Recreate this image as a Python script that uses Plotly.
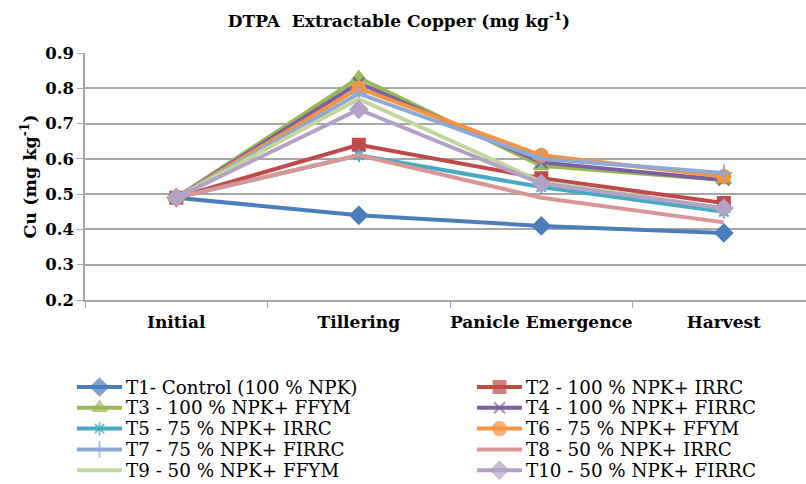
import plotly.graph_objects as go

stages = ["Initial", "Tillering", "Panicle Emergence", "Harvest"]
names = [
    "T1- Control (100 % NPK)",
    "T2 - 100 % NPK+ IRRC",
    "T3 - 100 % NPK+ FFYM",
    "T4 - 100 % NPK+ FIRRC",
    "T5 - 75 % NPK+ IRRC",
    "T6 - 75 % NPK+ FFYM",
    "T7 - 75 % NPK+ FIRRC",
    "T8 - 50 % NPK+ IRRC",
    "T9 - 50 % NPK+ FFYM",
    "T10 - 50 % NPK+ FIRRC",
]
t1 = [0.49, 0.44, 0.41, 0.39]
t2 = [0.49, 0.64, 0.545, 0.475]
t3 = [0.49, 0.83, 0.58, 0.54]
t4 = [0.49, 0.815, 0.59, 0.54]
t5 = [0.49, 0.61, 0.52, 0.45]
t6 = [0.49, 0.80, 0.61, 0.55]
t7 = [0.49, 0.785, 0.60, 0.56]
t8 = [0.49, 0.61, 0.49, 0.42]
t9 = [0.49, 0.77, 0.535, 0.46]
t10 = [0.49, 0.74, 0.53, 0.46]
series = [t1, t2, t3, t4, t5, t6, t7, t8, t9, t10]

colors = ["#4A7EBB", "#BE4B48", "#98B954", "#7D60A0", "#46AAC5",
          "#F69240", "#8EA9D4", "#D99694", "#C3D69B", "#B3A2C7"]
symbols = ["diamond", "square", "triangle-up", "x-thin-open", "asterisk-open",
           "circle", "cross-thin-open", None, None, "diamond"]
sizes = [13, 12, 13, 11, 11, 13, 12, 0, 0, 13]

# figure geometry (pixels)
FW, FH = 806, 484
PLOT_L, PLOT_T, PLOT_B = 85, 53, 300      # main plot area
LEG_T = 330                                 # legend area top

serif = "DejaVu Serif"

fig = go.Figure()
for name, vals, c, s, sz in zip(names, series, colors, symbols, sizes):
    if s is None:
        mode = "lines"
        marker = dict()
    else:
        mode = "lines+markers"
        marker = dict(symbol=s, size=sz, color=c, line=dict(color=c, width=2))
    fig.add_trace(go.Scatter(x=stages, y=vals, name=name, mode=mode,
                             line=dict(color=c, width=4), marker=marker,
                             showlegend=False))

# custom two-column legend (Excel style, tight rows) in its own subplot
leg_x0 = [77, 477]
row_y0, row_dy = 387, 20.8
annotations = []
for i, (name, c, s, sz) in enumerate(zip(names, colors, symbols, sizes)):
    col, row = i % 2, i // 2
    x0 = leg_x0[col]
    y = row_y0 + row * row_dy
    fig.add_trace(go.Scatter(x=[x0, x0 + 22.5, x0 + 45], y=[y, y, y],
                             mode="lines+markers" if s else "lines",
                             xaxis="x2", yaxis="y2",
                             line=dict(color=c, width=4),
                             marker=dict(symbol=s or "circle", size=[0, sz, 0],
                                         color=c, line=dict(color=c, width=2)),
                             showlegend=False, hoverinfo="skip"))
    annotations.append(dict(text=name, xref="x2", yref="y2",
                            x=x0 + 47, y=y, xanchor="left",
                            yanchor="middle", showarrow=False,
                            font=dict(family=serif, size=18.3, color="black")))

fig.update_layout(
    width=FW, height=FH,
    margin=dict(l=0, r=0, t=0, b=0, autoexpand=False),
    paper_bgcolor="white", plot_bgcolor="white",
    title=dict(text="<b>DTPA  Extractable Copper (mg kg<sup>-1</sup>)</b>",
               x=399 / FW, xref="container", xanchor="center",
               y=1 - 21 / FH, yanchor="middle",
               font=dict(family=serif, size=17, color="black")),
    xaxis=dict(type="category", range=[-0.5, 3.45], showgrid=False,
               domain=[PLOT_L / FW, 1], automargin=False,
               showline=True, linecolor="#A6A6A6", linewidth=1.5,
               ticks="outside", tickson="boundaries", ticklen=6, tickcolor="#A6A6A6",
               tickangle=0, ticklabelstandoff=6,
               tickfont=dict(family=serif, size=17, color="black"),
               tickprefix="<b>", ticksuffix="</b>"),
    yaxis=dict(range=[0.2, 0.9], dtick=0.1, tickformat=".1f",
               domain=[1 - PLOT_B / FH, 1 - PLOT_T / FH], automargin=False,
               showgrid=True, gridcolor="#A6A6A6", gridwidth=1.5,
               showline=True, linecolor="#A6A6A6", linewidth=1.5,
               ticks="outside", ticklen=6, tickcolor="#A6A6A6",
               tickfont=dict(family=serif, size=16.5, color="black"),
               tickprefix="<b>", ticksuffix="</b>",
               title=dict(text="<b>Cu (mg kg<sup>-1</sup>)</b>", standoff=4,
                          font=dict(family=serif, size=17.5, color="black"))),
    xaxis2=dict(domain=[0, 1], anchor="y2", range=[0, FW], visible=False,
                fixedrange=True, automargin=False),
    yaxis2=dict(domain=[0, 1 - LEG_T / FH], anchor="x2", range=[FH, LEG_T],
                visible=False, fixedrange=True, automargin=False),
    annotations=annotations,
    showlegend=False,
)
fig.write_html("out.html")
